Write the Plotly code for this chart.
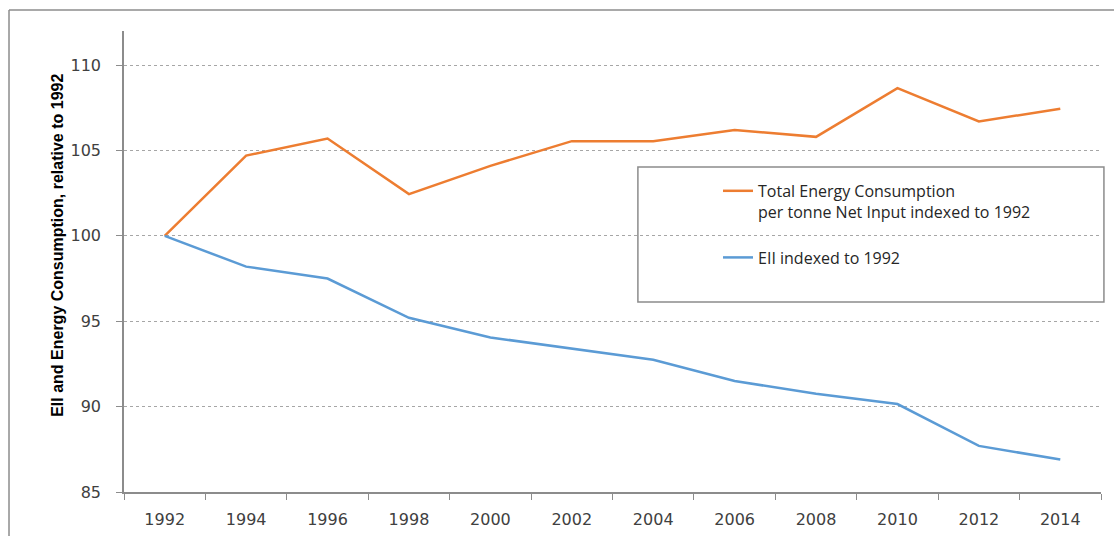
import plotly.graph_objects as go

years = ['1992', '1994', '1996', '1998', '2000', '2002', '2004',
         '2006', '2008', '2010', '2012', '2014']
energy = [100, 104.7, 105.7, 102.45, 104.1, 105.55, 105.55,
          106.2, 105.8, 108.65, 106.7, 107.45]
eii = [100, 98.2, 97.5, 95.2, 94.05, 93.4, 92.75,
       91.5, 90.75, 90.15, 87.7, 86.9]

energy_name = 'Total Energy Consumption<br>per tonne Net Input indexed to 1992'
eii_name = 'EII indexed to 1992'
ytitle = 'EII and Energy Consumption, relative to 1992'

orange = '#ED7D31'
blue = '#5B9BD5'
axis_grey = '#8c8c8c'

fig = go.Figure()
fig.add_trace(go.Scatter(x=years, y=energy, name=energy_name, mode='lines',
                         line=dict(color=orange, width=2.5), legendgroup='a'))
fig.add_trace(go.Scatter(x=years, y=eii, name=eii_name, mode='lines',
                         line=dict(color=blue, width=2.5), legendgroup='b'))

fig.update_layout(
    width=1114, height=536,
    margin=dict(l=124, r=13, t=31, b=44),
    paper_bgcolor='white', plot_bgcolor='white',
    font=dict(family='DejaVu Sans', size=16, color='#404040'),
    showlegend=True,
    legend=dict(
        x=0.608, y=0.69, xanchor='left', yanchor='top',
        bgcolor='rgba(0,0,0,0)', borderwidth=0,
        font=dict(family='Open Sans', size=16, color='#262626'),
        tracegroupgap=22, valign='top', itemwidth=30,
    ),
    xaxis=dict(
        type='category', range=[-0.5, 11.5], tickson='boundaries',
        ticks='outside', ticklen=6, automargin=False,
        tickcolor=axis_grey, showline=True, linecolor=axis_grey, linewidth=1.5,
        showgrid=False, ticklabelstandoff=12, fixedrange=True,
    ),
    yaxis=dict(
        range=[85, 112], tickvals=[85, 90, 95, 100, 105, 110],
        ticks='outside', ticklen=6, tickcolor=axis_grey, automargin=False,
        showline=True, linecolor=axis_grey, linewidth=1.5,
        showgrid=True, gridcolor='#a6a6a6', griddash='dot', gridwidth=1,
        zeroline=False, ticklabelstandoff=12, fixedrange=True,
    ),
    shapes=[
        # legend frame
        dict(type='rect', xref='paper', yref='paper', x0=0.526, x1=1.003,
             y0=0.412, y1=0.705, line=dict(color='#8c8c8c', width=1.5),
             fillcolor='rgba(0,0,0,0)', layer='above'),
        # outer chart frame (top and left edges)
        dict(type='line', xref='paper', yref='paper', x0=-0.1177, x1=1.02,
             y0=1.0456, y1=1.0456, line=dict(color='#8c8c8c', width=1.5)),
        dict(type='line', xref='paper', yref='paper', x0=-0.1177, x1=-0.1177,
             y0=1.0456, y1=-0.1, line=dict(color='#8c8c8c', width=1.5)),
    ],
    annotations=[
        dict(text='<b>' + ytitle + '</b>', xref='paper', yref='paper',
             x=-0.0676, y=0.536, textangle=-90, showarrow=False,
             xanchor='center', yanchor='middle',
             font=dict(family='Liberation Sans', size=16, color='#000000')),
    ],
)

fig.write_html('out.html', config={'displayModeBar': False},
               post_script="document.body.style.margin='0';")
